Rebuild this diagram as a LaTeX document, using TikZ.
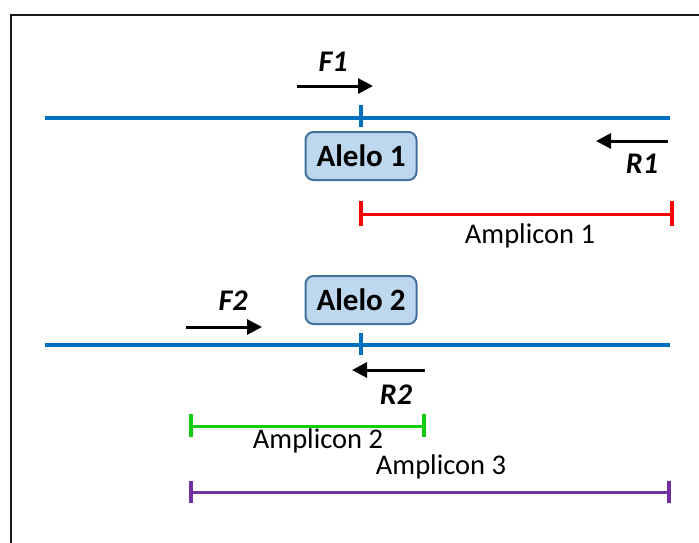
\documentclass[tikz,border=0pt]{standalone}
\usepackage{fontspec}
\setmainfont{Carlito}
\usetikzlibrary{arrows.meta}
\definecolor{dnablue}{HTML}{0070C0}
\definecolor{boxfill}{HTML}{BDD7EE}
\definecolor{boxdraw}{HTML}{41719C}
\definecolor{ampred}{HTML}{FF0000}
\definecolor{ampgreen}{HTML}{11CC11}
\definecolor{amppurple}{HTML}{7030A0}
\tikzset{
  dna/.style={draw=dnablue, line width=3.5pt},
  tick/.style={draw=dnablue, line width=3.5pt},
  primer/.style={draw=black, line width=3pt, -{Triangle[length=15pt,width=15pt]}},
  plab/.style={font=\fontsize{30}{33}\selectfont\bfseries\itshape, inner sep=0pt},
  allele/.style={draw=boxdraw, fill=boxfill, line width=2pt, rounded corners=8pt,
    minimum width=111pt, minimum height=48pt, font=\fontsize{31}{34}\selectfont\bfseries, inner sep=0pt},
  amp/.style={line width=3pt},
  ampend/.style={line width=3.5pt},
  alab/.style={font=\fontsize{28.5}{32}\selectfont, inner sep=0pt},
}
\begin{document}
\begin{tikzpicture}[x=1pt,y=-1pt]
\useasboundingbox (0,0) rectangle (699,542);
% frame
\draw[line width=2.8pt, draw=black!90] (11,545) -- (11,15) -- (705,15);
% DNA strand 1
\coordinate (d1a) at (45,118);
\coordinate (d1b) at (670,118);
\draw[dna] (d1a) -- (d1b);
\coordinate (t1a) at (361,105);
\coordinate (t1b) at (361,127);
\draw[tick] (t1a) -- (t1b);
\node[allele] (al1) at (361,156) {Alelo 1};
% F1
\coordinate (f1a) at (297,86);
\coordinate (f1b) at (373,86);
\draw[primer] (f1a) -- (f1b);
\node[plab] (F1) at (333,62) {F1};
% R1
\coordinate (r1a) at (668,141);
\coordinate (r1b) at (596,141);
\draw[primer] (r1a) -- (r1b);
\node[plab] (R1) at (642,164) {R1};
% Amplicon 1
\coordinate (a1a) at (361,214);
\coordinate (a1b) at (672,214);
\draw[amp, ampred] (a1a) -- (a1b);
\draw[ampend, ampred] (361,201) -- (361,226);
\draw[ampend, ampred] (672,201) -- (672,226);
\node[alab] (A1) at (530,236) {Amplicon 1};
% DNA strand 2
\coordinate (d2a) at (45,345);
\coordinate (d2b) at (670,345);
\draw[dna] (d2a) -- (d2b);
\coordinate (t2a) at (361,333);
\coordinate (t2b) at (361,355);
\draw[tick] (t2a) -- (t2b);
\node[allele] (al2) at (361,300) {Alelo 2};
% F2
\coordinate (f2a) at (186,327);
\coordinate (f2b) at (262,327);
\draw[primer] (f2a) -- (f2b);
\node[plab] (F2) at (233,301) {F2};
% R2
\coordinate (r2a) at (425,370);
\coordinate (r2b) at (352,370);
\draw[primer] (r2a) -- (r2b);
\node[plab] (R2) at (396,395) {R2};
% Amplicon 2
\coordinate (a2a) at (191,426);
\coordinate (a2b) at (424,426);
\draw[amp, ampgreen] (a2a) -- (a2b);
\draw[ampend, ampgreen] (191,414) -- (191,437);
\draw[ampend, ampgreen] (424,414) -- (424,437);
\node[alab] (A2) at (318,441) {Amplicon 2};
% Amplicon 3
\coordinate (a3a) at (191,492);
\coordinate (a3b) at (669,492);
\draw[amp, amppurple] (a3a) -- (a3b);
\draw[ampend, amppurple] (191,481) -- (191,503);
\draw[ampend, amppurple] (669,481) -- (669,503);
\node[alab] (A3) at (441,467) {Amplicon 3};
\end{tikzpicture}
\end{document}
